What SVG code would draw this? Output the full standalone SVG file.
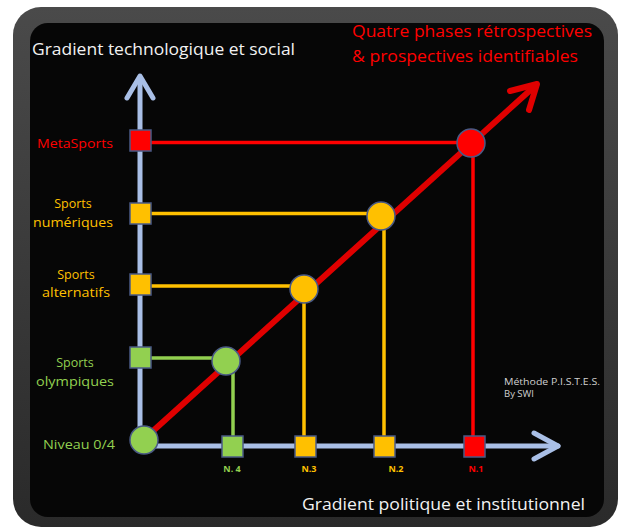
<svg xmlns="http://www.w3.org/2000/svg" width="621" height="529" viewBox="0 0 621 529">
<defs>
<linearGradient id="frameG" x1="0" y1="0" x2="0" y2="1">
<stop offset="0" stop-color="#4a4a4a"/>
<stop offset="1" stop-color="#2a2a2a"/>
</linearGradient>
</defs>
<style>
text{font-family:"Open Sans","Liberation Sans",Arial,sans-serif}
.title{fill:#f2f2f2;font-size:17px}
.red{fill:#ff0000}
.yel{fill:#ffc000}
.grn{fill:#92d050}
.lbl{font-size:12.5px;text-anchor:middle}
.nlbl{font-size:9px;font-weight:bold;text-anchor:middle}
.node{stroke:#4a5a85;stroke-width:1.5}
.axis{stroke:#a9bfe6;stroke-width:5;fill:none;stroke-linecap:round;stroke-linejoin:round}
.lr{stroke:#ff0000;stroke-width:3.5;fill:none}
.ly{stroke:#ffc000;stroke-width:3.5;fill:none}
.lg{stroke:#92d050;stroke-width:3.5;fill:none}
.diag{stroke:#e00000;stroke-width:6;fill:none;stroke-linecap:round;stroke-linejoin:round}
</style>
<rect x="0" y="0" width="621" height="529" fill="#ffffff"/>
<rect x="13" y="7" width="605" height="520" rx="28" fill="url(#frameG)"/>
<rect x="30" y="23" width="574" height="494" rx="18" fill="#060606"/>

<text class="title" x="32" y="55" textLength="263" lengthAdjust="spacingAndGlyphs">Gradient technologique et social</text>
<text class="red" x="352" y="37" font-size="16" textLength="240" lengthAdjust="spacingAndGlyphs">Quatre phases rétrospectives</text>
<text class="red" x="352" y="62" font-size="16" textLength="226" lengthAdjust="spacingAndGlyphs">&amp; prospectives identifiables</text>
<text class="title" x="302" y="510" textLength="283" lengthAdjust="spacingAndGlyphs">Gradient politique et institutionnel</text>
<text x="504" y="385" font-size="9.5" fill="#d0d0d0" textLength="96" lengthAdjust="spacingAndGlyphs">Méthode P.I.S.T.E.S.</text>
<text x="504" y="397" font-size="9.5" fill="#d0d0d0">By SWI</text>

<g id="connectors">
<polyline class="axis" points="140,440 140,78"/>
<polyline class="axis" points="127,98 140,76 153,98"/>
<polyline class="axis" points="144,446 558,446"/>
<polyline class="axis" points="534,433 558,446 534,459"/>
<line class="diag" x1="143" y1="440" x2="536" y2="85"/>
<polyline class="diag" points="510,91 537,84 529,110"/>
<polyline class="lr" points="150,142.5 471,142.5 473,142.5 473,437"/>
<polyline class="ly" points="150,213.5 384,213.5 384,437"/>
<polyline class="ly" points="150,286 304,286 304,437"/>
<polyline class="lg" points="150,358 233,358 233,437"/>
</g>

<g id="metasports"><rect class="node red" x="130" y="130" width="21" height="21"/><text class="lbl red" x="75" y="148" textLength="76" lengthAdjust="spacingAndGlyphs">MetaSports</text></g>
<g id="sports-numeriques"><rect class="node yel" x="130" y="203" width="21" height="21"/><text class="lbl yel" x="73" y="208">Sports</text><text class="lbl yel" x="73" y="227" textLength="80" lengthAdjust="spacingAndGlyphs">numériques</text></g>
<g id="sports-alternatifs"><rect class="node yel" x="130" y="274" width="21" height="21"/><text class="lbl yel" x="76" y="279">Sports</text><text class="lbl yel" x="76" y="297" textLength="68" lengthAdjust="spacingAndGlyphs">alternatifs</text></g>
<g id="sports-olympiques"><rect class="node grn" x="130" y="347" width="21" height="21"/><text class="lbl grn" x="75" y="367">Sports</text><text class="lbl grn" x="75" y="386" textLength="78" lengthAdjust="spacingAndGlyphs">olympiques</text></g>
<g id="niveau0"><circle class="node grn" cx="144" cy="440" r="14"/><text class="lbl grn" x="79" y="449" textLength="72" lengthAdjust="spacingAndGlyphs">Niveau 0/4</text></g>

<g id="c-olympiques"><circle class="node grn" cx="226" cy="361" r="14"/></g>
<g id="c-alternatifs"><circle class="node yel" cx="304" cy="289" r="14"/></g>
<g id="c-numeriques"><circle class="node yel" cx="381" cy="216" r="14"/></g>
<g id="c-metasports"><circle class="node red" cx="471" cy="143" r="14"/></g>

<g id="n4"><rect class="node grn" x="222" y="436" width="21" height="21"/><text class="nlbl grn" x="232" y="472">N. 4</text></g>
<g id="n3"><rect class="node yel" x="295" y="436" width="21" height="21"/><text class="nlbl yel" x="309" y="472">N.3</text></g>
<g id="n2"><rect class="node yel" x="374" y="436" width="21" height="21"/><text class="nlbl yel" x="396" y="472">N.2</text></g>
<g id="n1"><rect class="node red" x="464" y="436" width="21" height="21"/><text class="nlbl red" x="476" y="472">N.1</text></g>
</svg>
